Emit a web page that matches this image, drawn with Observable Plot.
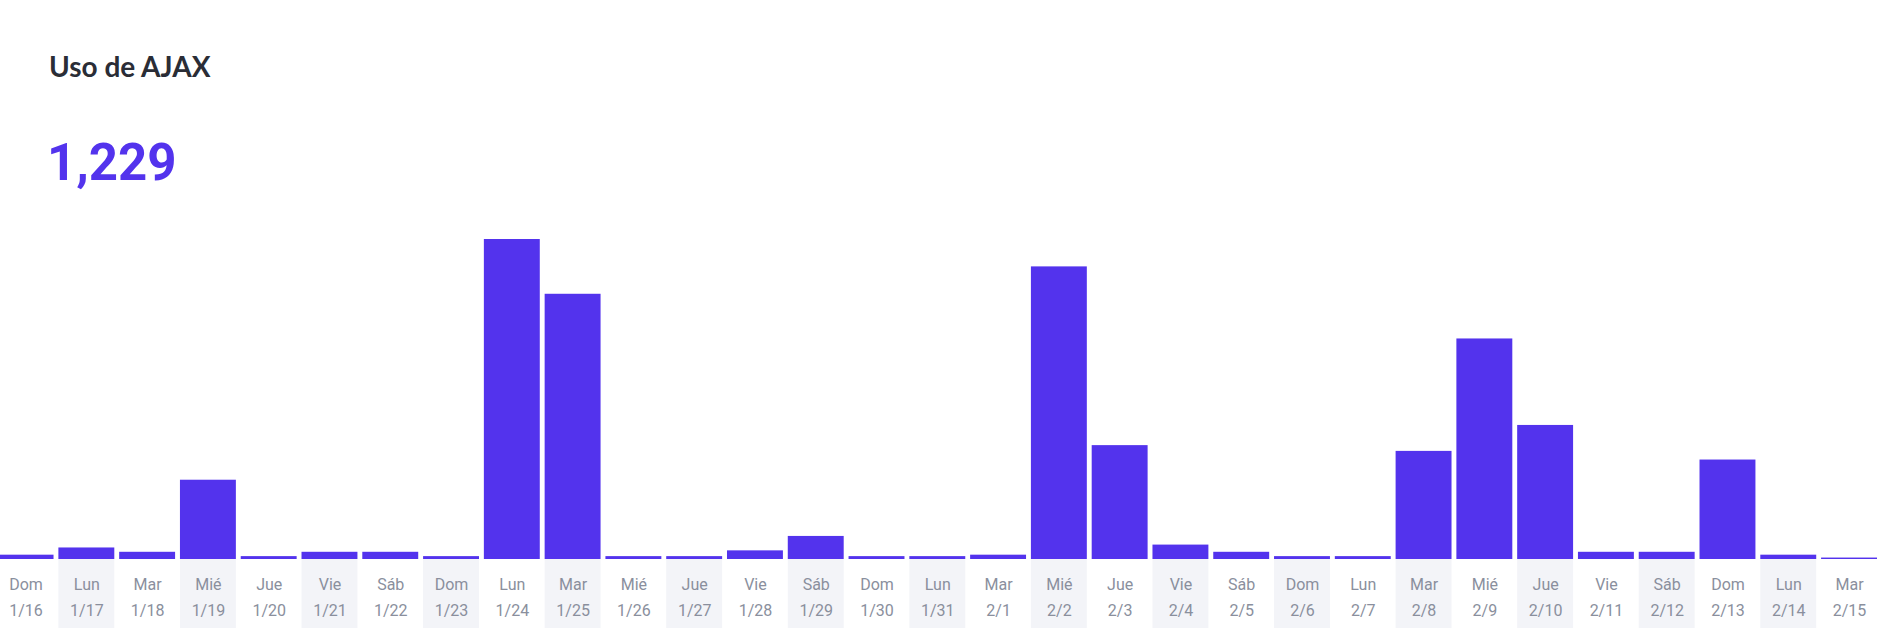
<!DOCTYPE html>
<html>
<head>
<meta charset="utf-8">
<script src="https://cdn.jsdelivr.net/npm/d3@7"></script>
<script src="https://cdn.jsdelivr.net/npm/@observablehq/plot@0.6"></script>
<style>
  html, body { margin: 0; padding: 0; background: #ffffff; }
  #wrap { width: 1890px; height: 628px; position: relative; overflow: hidden; }
  #header { position: relative; height: 190px; }
  #title { position: absolute; left: 49px; top: 52px; font-family: Lato, "Noto Sans", sans-serif; font-weight: 700; font-size: 28px; line-height: 1; color: #2a2d36; white-space: nowrap; }
  #total { position: absolute; left: 47px; top: 137px; font-family: Roboto, sans-serif; font-weight: 700; font-size: 51px; line-height: 1; color: #5333ed; white-space: nowrap; }
  #chart svg { display: block; overflow: hidden; }
</style>
</head>
<body>
<div id="wrap">
  <div id="header">
    <div id="title">Uso de AJAX</div>
    <div id="total"></div>
  </div>
  <div id="chart"></div>
</div>
<script>
const dates = ["1/16","1/17","1/18","1/19","1/20","1/21","1/22","1/23","1/24","1/25","1/26","1/27","1/28","1/29","1/30","1/31","2/1","2/2","2/3","2/4","2/5","2/6","2/7","2/8","2/9","2/10","2/11","2/12","2/13","2/14","2/15"];
const dayNames = ["Dom","Lun","Mar","Mié","Jue","Vie","Sáb","Dom","Lun","Mar","Mié","Jue","Vie","Sáb","Dom","Lun","Mar","Mié","Jue","Vie","Sáb","Dom","Lun","Mar","Mié","Jue","Vie","Sáb","Dom","Lun","Mar"];
const counts = [3,8,5,55,2,5,5,2,222,184,2,2,6,16,2,2,3,203,79,10,5,2,2,75,153,93,5,5,69,3,1];

const data = dates.map((d, i) => ({date: d, day: dayNames[i], count: counts[i], idx: i}));
const total = d3.sum(counts);
document.getElementById("total").textContent = d3.format(",")(total);

const shaded = data.filter(d => d.idx % 2 === 1);

const chart = Plot.plot({
  width: 1890,
  height: 438,
  marginLeft: -2.4,
  marginRight: 13,
  marginTop: 49,
  marginBottom: 69,
  style: {fontFamily: "Roboto, sans-serif", background: "transparent"},
  x: {type: "band", domain: dates, paddingInner: 0.08, paddingOuter: 0, align: 0, round: false, axis: null},
  y: {domain: [0, d3.max(counts)], axis: null},
  marks: [
    Plot.barY(shaded, {x: "date", y1: 0, y2: 0, insetBottom: -70, fill: "#f3f4f8"}),
    Plot.barY(data, {x: "date", y: "count", fill: "#5333ed"}),
    Plot.text(data, {x: "date", y: 0, text: "day", dy: 25, fill: "#8a8f9d", fontSize: 16, lineAnchor: "middle"}),
    Plot.text(data, {x: "date", y: 0, text: "date", dy: 51, fill: "#8a8f9d", fontSize: 16, lineAnchor: "middle"})
  ]
});
document.getElementById("chart").appendChild(chart);
</script>
</body>
</html>
